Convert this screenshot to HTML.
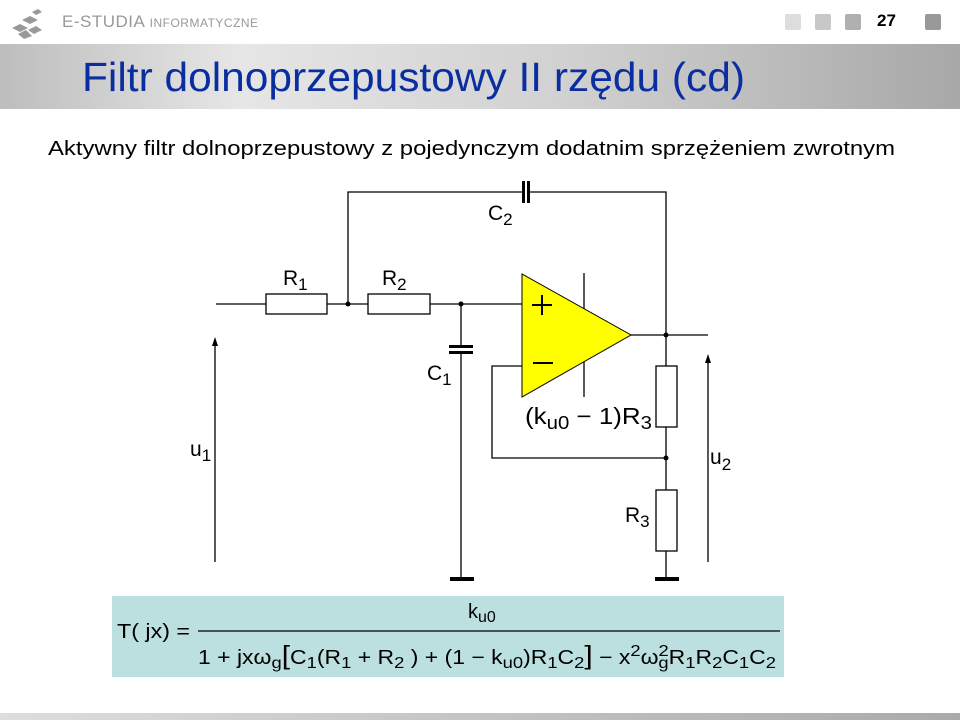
<!DOCTYPE html>
<html><head><meta charset="utf-8"><style>
body{margin:0;width:960px;height:720px;background:#fff;position:relative;overflow:hidden;font-family:"Liberation Sans",Arial,sans-serif}
.band{position:absolute;left:0;top:44px;width:960px;height:65px;background:linear-gradient(90deg,#bdbdbd 0%,#e6e6e6 25%,#d0d0d0 60%,#a8a8a8 100%)}
.sq{position:absolute;top:14px;width:16px;height:16px;border-radius:2px}
.formula{position:absolute;left:112px;top:596px;width:672px;height:81px;background:#bce0e0}
.bottom{position:absolute;left:0;top:713px;width:960px;height:7px;background:linear-gradient(90deg,#ddd,#aaa)}
</style></head><body>
<svg style="position:absolute;left:8px;top:6px" width="40" height="34"><g fill="#999"><polygon points="4,22 12,18 20,22 12,26"/><polygon points="14,14 22,10 30,14 22,18"/><polygon points="20,24 28,20 34,24 26,28"/><polygon points="10,28 18,24 24,30 16,33"/><polygon points="24,6 30,3 34,6 28,9"/></g></svg>
<div style="position:absolute;left:62px;top:12px;font-size:17px;color:#999;letter-spacing:0.5px">E-STUDIA <span style="font-size:12px">INFORMATYCZNE</span></div>
<div class="sq" style="left:785px;background:#ddd"></div>
<div class="sq" style="left:815px;background:#c8c8c8"></div>
<div class="sq" style="left:845px;background:#b0b0b0"></div>
<div style="position:absolute;left:877px;top:11px;font-size:17px;font-weight:bold">27</div>
<div class="sq" style="left:925px;background:#999"></div>
<div class="band"></div>
<svg style="position:absolute;left:0;top:0" width="960" height="720" font-family="Liberation Sans, Arial, sans-serif">
<text x="82" y="91" font-size="41" fill="#0a2ea0" textLength="663" lengthAdjust="spacingAndGlyphs">Filtr dolnoprzepustowy II rzędu (cd)</text>
<text x="48" y="155" font-size="20" fill="#000" textLength="847" lengthAdjust="spacingAndGlyphs">Aktywny filtr dolnoprzepustowy z pojedynczym dodatnim sprzężeniem zwrotnym</text>
<g stroke="#000" stroke-width="1.3" fill="none">
<polyline points="348,304 348,192 523,192"/><polyline points="529,192 666,192 666,579"/>
<line x1="216" y1="304" x2="266" y2="304"/><line x1="327" y1="304" x2="368" y2="304"/><line x1="430" y1="304" x2="522" y2="304"/>
<rect x="266" y="294" width="61" height="20"/><rect x="368" y="294" width="62" height="20"/>
<line x1="461" y1="304" x2="461" y2="346"/><line x1="461" y1="353" x2="461" y2="579"/>
<line x1="584" y1="273" x2="584" y2="397"/>
<polyline points="522,366 492,366 492,458 666,458"/>
<line x1="631" y1="335" x2="708" y2="335"/>
<line x1="215" y1="345" x2="215" y2="562"/><line x1="708" y1="362" x2="708" y2="562"/>
</g>
<rect x="656" y="366" width="21" height="61" fill="#fff" stroke="#000" stroke-width="1.3"/>
<rect x="656" y="490" width="21" height="61" fill="#fff" stroke="#000" stroke-width="1.3"/>
<polygon points="522,274 522,397 631,335" fill="#ffff00" stroke="#000" stroke-width="1"/>
<g stroke="#000" stroke-width="2"><line x1="532" y1="305" x2="552" y2="305"/><line x1="542" y1="295" x2="542" y2="315"/><line x1="533" y1="363" x2="553" y2="363"/></g>
<g fill="#000">
<rect x="522" y="181" width="3" height="22"/><rect x="527" y="181" width="3" height="22"/>
<rect x="449" y="345" width="24" height="3"/><rect x="449" y="351" width="24" height="3"/>
<rect x="450" y="577" width="24" height="4"/><rect x="655" y="577" width="24" height="4"/>
<circle cx="348" cy="304" r="2.5"/><circle cx="461" cy="304" r="2.5"/><circle cx="666" cy="335" r="2.5"/><circle cx="666" cy="458" r="2.5"/>
<polygon points="215,337 212,346 218,346"/><polygon points="708,354 705,363 711,363"/>
</g>
<g font-size="21" fill="#000">
<text x="488" y="220">C<tspan dy="5" font-size="17">2</tspan></text>
<text x="283" y="285">R<tspan dy="5" font-size="17">1</tspan></text>
<text x="382" y="285">R<tspan dy="5" font-size="17">2</tspan></text>
<text x="427" y="380">C<tspan dy="5" font-size="17">1</tspan></text>
<text x="525" y="424" font-size="23" textLength="127" lengthAdjust="spacingAndGlyphs">(k<tspan dy="5" font-size="18">u0</tspan><tspan dy="-5"> − 1)R</tspan><tspan dy="5" font-size="18">3</tspan></text>
<text x="190" y="456">u<tspan dy="5" font-size="17">1</tspan></text>
<text x="710" y="464">u<tspan dy="6" font-size="17">2</tspan></text>
<text x="625" y="522">R<tspan dy="5" font-size="17">3</tspan></text>
</g>
</svg>
<div class="formula">
<svg width="672" height="81" font-family="Liberation Sans, Arial, sans-serif" font-size="20">
<text x="5" y="42" textLength="73" lengthAdjust="spacingAndGlyphs">T( jx) =</text>
<text x="356" y="22">k<tspan dy="4" font-size="16">u0</tspan></text>
<line x1="86" y1="35" x2="668" y2="35" stroke="#000" stroke-width="1.2"/>
<text x="86" y="68" textLength="578" lengthAdjust="spacingAndGlyphs">1 + jxω<tspan dy="4" font-size="16">g</tspan><tspan dy="-4" font-size="26">[</tspan>C<tspan dy="4" font-size="16">1</tspan><tspan dy="-4">(R</tspan><tspan dy="4" font-size="16">1</tspan><tspan dy="-4"> + R</tspan><tspan dy="4" font-size="16">2</tspan><tspan dy="-4"> ) + (1 − k</tspan><tspan dy="4" font-size="16">u0</tspan><tspan dy="-4">)R</tspan><tspan dy="4" font-size="16">1</tspan><tspan dy="-4">C</tspan><tspan dy="4" font-size="16">2</tspan><tspan dy="-4" font-size="26">]</tspan> − x<tspan dy="-8" font-size="16">2</tspan><tspan dy="8">ω</tspan><tspan dy="-8" font-size="16">2</tspan><tspan dy="12" dx="-9" font-size="16">g</tspan><tspan dy="-4">R</tspan><tspan dy="4" font-size="16">1</tspan><tspan dy="-4">R</tspan><tspan dy="4" font-size="16">2</tspan><tspan dy="-4">C</tspan><tspan dy="4" font-size="16">1</tspan><tspan dy="-4">C</tspan><tspan dy="4" font-size="16">2</tspan></text>
</svg>
</div>
<div class="bottom"></div>
</body></html>
